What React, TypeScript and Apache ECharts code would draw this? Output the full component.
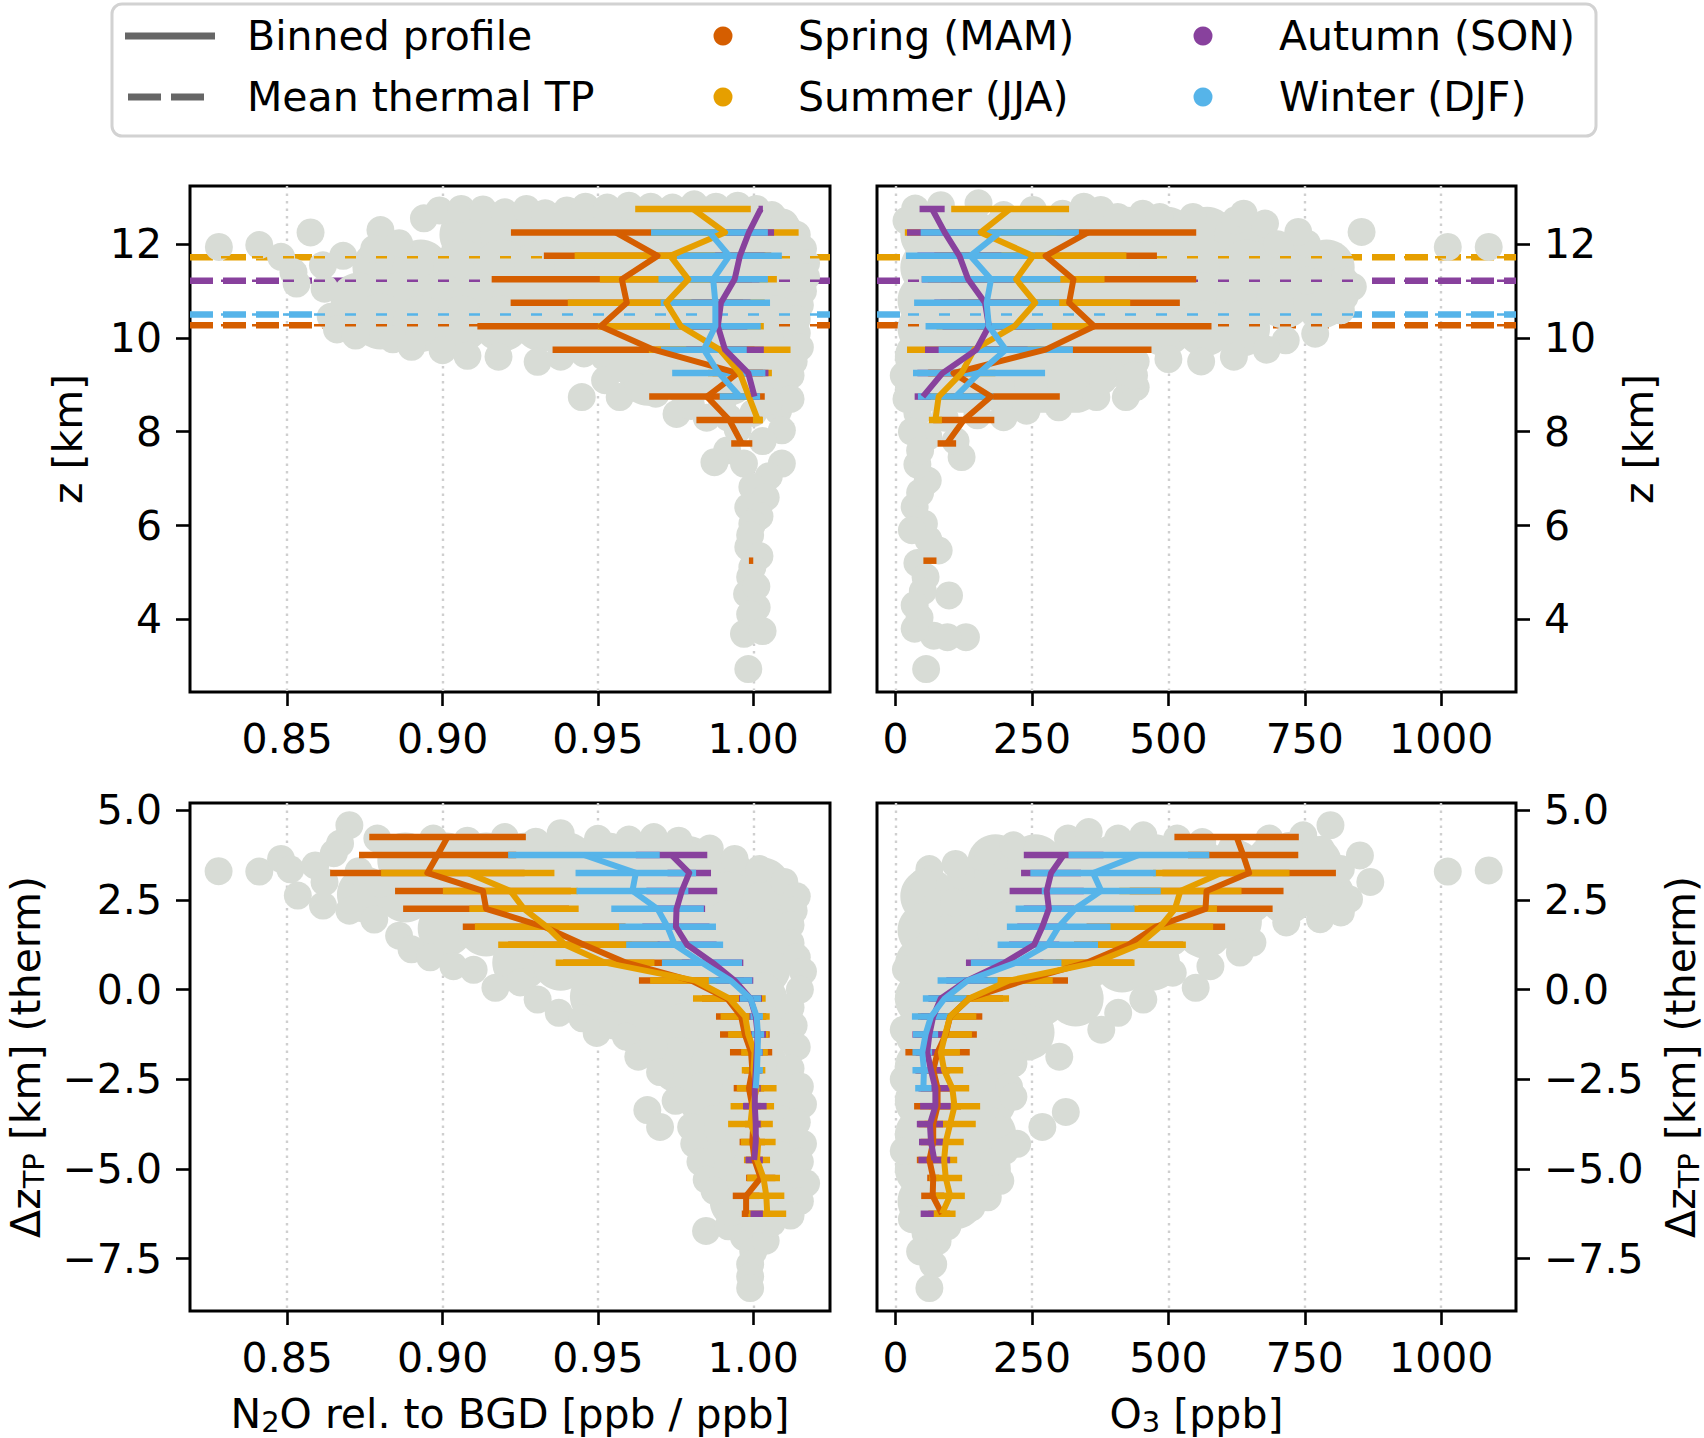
import React, { useEffect, useRef } from "react";
import * as echarts from "echarts";

const FONT = "DejaVu Sans";
const N = null;

const SEASON_NAMES = ["Spring (MAM)", "Summer (JJA)", "Autumn (SON)", "Winter (DJF)"];
const SEASON_COLORS = ["#d55e00", "#e69f00", "#88419d", "#56b4e9"];
const LEGEND_LINES = ["Binned profile", "Mean thermal TP"];
const DOT_GREY = "#d8dcd6";

// bin centres (km): altitude (top row) and distance to thermal tropopause (bottom row)
const Z_BINS = [12.75, 12.25, 11.75, 11.25, 10.75, 10.25, 9.75, 9.25, 8.75, 8.25, 7.75, 7.25, 6.75, 6.25, 5.75, 5.25];
const DZ_BINS = [4.25, 3.75, 3.25, 2.75, 2.25, 1.75, 1.25, 0.75, 0.25, -0.25, -0.75, -1.25, -1.75, -2.25, -2.75, -3.25, -3.75, -4.25, -4.75, -5.25, -5.75, -6.25];

// mean thermal tropopause altitude per season (km)
const TP_MEAN_Z = [10.27, 11.72, 11.22, 10.5];

// axis ranges and ticks
const N2O_RANGE = [0.8187, 1.0247];
const O3_RANGE = [-34, 1137];
const Z_RANGE = [2.45, 13.24];
const DZ_RANGE = [-8.96, 5.2];
const N2O_TICKS = [0.85, 0.9, 0.95, 1.0];
const O3_TICKS = [0, 250, 500, 750, 1000];
const Z_TICKS = [4, 6, 8, 10, 12];
const DZ_TICKS = [-7.5, -5, -2.5, 0, 2.5, 5];

// binned means / std per season (spring, summer, autumn, winter)
const N2O_Z_MEAN = [
  [N, 0.9557, 0.9692, 0.9577, 0.9593, 0.9509, 0.9679, 0.995, 0.9851, 0.9923, 0.9963, N, N, N, N, 0.9993],
  [0.9806, 0.9909, 0.9733, 0.9791, 0.972, 0.9767, 0.9892, 0.9957, 0.9986, 1.0015, N, N, N, N, N, N],
  [1.0024, 0.9986, 0.9957, 0.994, 0.9896, 0.9886, 0.9909, 0.9984, 1.0004, N, N, N, N, N, N, N],
  [N, 0.9859, 0.9923, 0.9871, 0.9878, 0.9878, 0.9841, 0.9889, 0.9957, N, N, N, N, N, N, N],
];
const N2O_Z_SD = [
  [N, 0.0337, 0.0366, 0.0419, 0.0374, 0.0397, 0.0325, 0.0081, 0.0186, 0.0106, 0.0034, N, N, N, N, 0.0007],
  [0.0186, 0.0237, 0.0308, 0.0285, 0.0317, 0.0267, 0.0228, 0.0103, 0.0027, 0.0016, N, N, N, N, N, N],
  [0.0007, 0.0081, 0.008, 0.008, 0.0095, 0.0095, 0.0125, 0.0065, 0.0016, N, N, N, N, N, N, N],
  [N, 0.0188, 0.0169, 0.0176, 0.0176, 0.0146, 0.0138, 0.015, 0.0065, N, N, N, N, N, N, N],
];
const O3_Z_MEAN = [
  [N, 353, 275, 326, 318, 364, 275, 106, 175, 125, 94, N, N, N, N, 63],
  [210, 156, 252, 221, 256, 218, 144, 121, 79, 73, N, N, N, N, N, N],
  [67, 90, 117, 133, 164, 171, 148, 86, 50, N, N, N, N, N, N, N],
  [N, 191, 137, 175, 167, 171, 202, 153, 110, N, N, N, N, N, N, N],
];
const O3_Z_SD = [
  [N, 198, 204, 225, 203, 215, 194, 46, 126, 56, 17, N, N, N, N, 12],
  [108, 139, 171, 162, 174, 143, 123, 62, 23, 12, N, N, N, N, N, N],
  [23, 69, 77, 85, 93, 85, 94, 46, 15, N, N, N, N, N, N, N],
  [N, 145, 118, 127, 133, 116, 123, 121, 69, N, N, N, N, N, N, N],
];
const N2O_DZ_MEAN = [
  [0.9016, 0.8984, 0.8951, 0.913, 0.914, 0.9327, 0.9455, 0.9591, 0.9801, 0.9916, 0.9961, 0.9973, 0.9993, 0.9997, 0.9986, 0.9997, 1.0, 0.9997, 1.0004, 1.0024, 0.9977, 0.9977],
  [N, N, 0.9081, 0.9218, 0.9262, 0.9336, 0.9394, 0.9523, 0.9814, 0.9923, 0.9974, 0.9984, 1.0004, 1.0001, 1.0011, 0.9997, 0.9991, 1.0016, 1.0012, 1.0033, 1.0042, 1.0045],
  [N, 0.9737, 0.9794, 0.977, 0.9753, 0.9751, 0.9787, 0.9869, 0.994, 0.9991, 1.0008, 1.0014, 1.0011, 1.0008, 1.0005, 1.0005, 1.0008, 1.0008, 1.0003, N, N, 1.0011],
  [N, 0.9455, 0.9622, 0.9611, 0.9692, 0.9724, 0.9747, 0.9835, 0.9927, 0.9991, 1.0011, 1.0015, 1.0014, 1.0012, 1.0008, N, N, N, N, N, N, N],
];
const N2O_DZ_SD = [
  [0.0252, 0.0253, 0.0313, 0.0283, 0.0267, 0.0262, 0.0244, 0.0203, 0.0169, 0.0081, 0.0081, 0.008, 0.0068, 0.0027, 0.0049, 0.0027, 0.0027, 0.0041, 0.0027, 0.0047, 0.0043, 0.0014],
  [N, N, 0.0279, 0.0217, 0.0176, 0.0232, 0.0215, 0.0159, 0.0146, 0.0117, 0.0079, 0.0065, 0.0043, 0.0038, 0.0064, 0.007, 0.0072, 0.0056, 0.0042, 0.0053, 0.0058, 0.0061],
  [N, 0.0115, 0.007, 0.0114, 0.0092, 0.0108, 0.0095, 0.0099, 0.006, 0.0037, 0.002, 0.0027, 0.002, 0.002, 0.0019, 0.0038, 0.0016, 0.0014, 0.0028, N, N, 0.002],
  [N, 0.0244, 0.0194, 0.018, 0.0149, 0.0156, 0.0156, 0.0129, 0.007, 0.0034, 0.002, 0.002, 0.0016, 0.0019, 0.0009, N, N, N, N, N, N, N],
];
const O3_DZ_MEAN = [
  [625, 637, 648, 570, 568, 477, 427, 350, 235, 135, 100, 92, 77, 69, 77, 77, 69, 69, 62, 69, 68, 85],
  [N, N, 597, 522, 512, 485, 446, 366, 208, 135, 100, 91, 83, 89, 104, 108, 100, 92, 89, 92, 100, 85],
  [N, 308, 285, 277, 281, 269, 254, 200, 131, 83, 69, 62, 58, 65, 73, 73, 63, 65, 71, N, N, 58],
  [N, 446, 362, 377, 329, 299, 279, 221, 132, 90, 65, 55, 49, 52, 51, N, N, N, N, N, N, N],
];
const O3_DZ_SD = [
  [114, 101, 159, 141, 123, 127, 100, 85, 81, 62, 59, 57, 59, 31, 31, 43, 27, 23, 23, 11, 21, 15],
  [N, N, 125, 112, 77, 97, 86, 72, 80, 73, 48, 49, 35, 35, 31, 47, 47, 33, 24, 30, 27, 25],
  [N, 73, 55, 68, 46, 46, 46, 71, 38, 23, 23, 31, 21, 29, 31, 28, 24, 22, 29, N, N, 12],
  [N, 129, 115, 109, 109, 95, 92, 83, 55, 40, 35, 23, 18, 21, 15, N, N, N, N, N, N, N],
];

// individual observations (grey dots); dense interior drawn with bigger dots
const N2O_Z_DENSE = [
  [0.908, 12.2], [0.921, 12.2], [0.934, 12.2], [0.947, 12.2], [0.96, 12.2], [0.973, 12.2], [0.986, 12.2], [0.999, 12.2], [1.007, 12.2],
  [0.88, 11.5], [0.893, 11.5], [0.906, 11.5], [0.919, 11.5], [0.932, 11.5], [0.945, 11.5], [0.958, 11.5], [0.971, 11.5], [0.984, 11.5], [0.997, 11.5], [1.007, 11.5],
  [0.873, 10.8], [0.886, 10.8], [0.899, 10.8], [0.912, 10.8], [0.925, 10.8], [0.938, 10.8], [0.951, 10.8], [0.964, 10.8], [0.977, 10.8], [0.99, 10.8], [1.003, 10.8], [1.007, 10.8],
  [0.88, 10.35], [0.893, 10.3], [0.906, 10.3], [0.919, 10.3], [0.932, 10.3], [0.945, 10.3], [0.958, 10.3], [0.971, 10.3], [0.984, 10.3], [0.997, 10.3], [1.007, 10.3],
  [0.962, 9.7], [0.975, 9.7], [0.988, 9.7], [1.001, 9.7], [1.007, 9.7],
  [0.966, 9.15], [0.979, 9.15], [0.992, 9.15], [1.004, 9.15],
];
const N2O_Z_DOTS = [
  [0.828, 11.94], [0.841, 11.98], [0.8575, 12.25], [0.848, 11.73], [0.852, 11.4], [0.853, 11.16], [0.8615, 11.55], [0.862, 11.05],
  [0.864, 10.45], [0.866, 10.18], [0.872, 10.05], [0.88, 12.3], [0.886, 12.02], [0.878, 11.9], [0.868, 11.75], [0.884, 9.97],
  [0.89, 9.81], [0.9, 9.74], [0.908, 9.62], [0.918, 9.6], [0.9306, 9.49], [0.938, 9.6], [0.9455, 9.67], [0.952, 9.6],
  [0.894, 12.55], [0.899, 12.72], [0.906, 12.75], [0.913, 12.74], [0.92, 12.68], [0.927, 12.75], [0.933, 12.66], [0.94, 12.72],
  [0.946, 12.8], [0.953, 12.78], [0.96, 12.82], [0.967, 12.8], [0.974, 12.78], [0.981, 12.85], [0.988, 12.8], [0.995, 12.82],
  [1.001, 12.75], [1.006, 12.62], [1.01, 12.45], [1.014, 12.2], [1.016, 11.9], [1.017, 11.6], [1.017, 11.3], [1.016, 11.0],
  [1.015, 10.7], [1.014, 10.4], [1.014, 10.1], [1.015, 9.8], [1.013, 9.5], [1.012, 9.2], [1.01, 8.9],
  [0.9523, 9.1], [0.957, 8.74], [0.9448, 8.74], [0.9686, 8.81], [0.9753, 8.38], [0.985, 8.3], [0.992, 8.3], [1.0, 8.4],
  [1.008, 8.45], [1.012, 8.7], [0.963, 8.95], [0.98, 8.55], [0.99, 8.6], [1.005, 8.65], [0.958, 9.35],
  [0.9916, 7.6], [0.9875, 7.35], [0.997, 7.32], [1.0092, 7.32], [1.0092, 8.03], [1.003, 7.8], [0.995, 8.05], [1.005, 7.05],
  [0.9997, 6.82], [1.004, 6.6], [0.9984, 6.39], [1.002, 6.2], [0.9997, 6.04], [0.999, 5.8], [0.9984, 5.54], [1.002, 5.35],
  [0.9997, 5.11], [0.999, 4.9], [0.998, 4.54], [1.001, 4.7], [1.0011, 4.25], [0.999, 4.11], [0.997, 3.69], [1.003, 3.75], [0.9984, 2.94],
];
const O3_Z_DENSE = [
  [60, 12.2], [133, 12.2], [206, 12.2], [279, 12.2], [352, 12.2], [425, 12.2], [498, 12.2], [571, 12.2], [635, 12.15],
  [60, 11.5], [133, 11.5], [206, 11.5], [279, 11.5], [352, 11.5], [425, 11.5], [498, 11.5], [571, 11.5], [644, 11.5], [717, 11.5], [790, 11.5],
  [55, 10.8], [128, 10.8], [201, 10.8], [274, 10.8], [347, 10.8], [420, 10.8], [493, 10.8], [566, 10.8], [639, 10.8], [712, 10.8], [780, 10.8],
  [55, 10.2], [128, 10.2], [201, 10.2], [274, 10.2], [347, 10.2], [420, 10.2], [493, 10.2], [566, 10.2], [635, 10.2],
  [50, 9.6], [123, 9.6], [196, 9.6], [269, 9.6], [342, 9.6], [400, 9.55],
  [50, 9.0], [123, 9.0], [196, 9.0], [269, 9.0], [330, 9.0],
];
const O3_Z_DOTS = [
  [36, 12.76], [83, 12.83], [152, 12.87], [198, 12.62], [252, 12.73], [306, 12.65], [345, 12.8], [376, 12.73], [407, 12.58],
  [453, 12.65], [484, 12.58], [545, 12.58], [623, 12.51], [677, 12.44], [638, 12.65], [20, 12.5],
  [715, 11.59], [754, 11.23], [792, 11.02], [823, 11.23], [816, 10.59], [769, 10.09], [715, 9.95], [792, 11.73], [754, 12.01],
  [738, 12.26], [854, 12.26], [1012, 11.94], [1087, 11.94], [823, 10.88], [838, 11.09], [700, 12.0], [680, 9.75], [620, 9.6],
  [560, 9.5], [500, 9.55], [440, 9.5],
  [368, 8.74], [422, 8.74], [440, 8.95], [299, 8.52], [198, 8.31], [240, 8.45], [150, 8.35], [90, 8.3], [40, 8.4], [20, 8.7],
  [15, 9.2], [121, 7.46], [60, 7.9], [110, 7.8], [30, 8.0], [380, 9.1], [437, 9.2],
  [59, 6.96], [40, 7.3], [52, 6.04], [35, 6.4], [45, 6.7], [79, 5.47], [60, 5.7], [40, 5.2], [55, 4.9], [98, 4.51], [50, 4.6],
  [44, 4.04], [70, 3.65], [129, 3.62], [95, 3.62], [35, 3.8], [56, 2.94], [45, 7.6], [30, 5.9], [35, 4.3],
];
const N2O_DZ_DENSE = [
  [0.888, 3.6], [0.901, 3.6], [0.914, 3.6], [0.927, 3.6], [0.94, 3.6], [0.953, 3.6], [0.966, 3.6], [0.979, 3.5], [0.992, 3.1], [1.003, 2.9],
  [0.875, 2.65], [0.888, 2.65], [0.901, 2.65], [0.914, 2.65], [0.927, 2.65], [0.94, 2.65], [0.953, 2.65], [0.966, 2.65], [0.979, 2.65], [0.992, 2.5], [1.005, 2.3],
  [0.901, 1.7], [0.914, 1.7], [0.927, 1.7], [0.94, 1.7], [0.953, 1.7], [0.966, 1.7], [0.979, 1.7], [0.992, 1.7], [1.005, 1.5],
  [0.925, 0.75], [0.938, 0.75], [0.951, 0.75], [0.964, 0.75], [0.977, 0.75], [0.99, 0.75], [1.003, 0.6],
  [0.95, -0.2], [0.963, -0.2], [0.976, -0.2], [0.989, -0.2], [1.002, -0.3],
  [0.965, -1.15], [0.978, -1.15], [0.991, -1.15], [1.003, -1.2],
  [0.976, -2.1], [0.989, -2.1], [1.002, -2.1],
  [0.985, -3.05], [0.998, -3.05], [1.007, -3.05],
  [0.988, -4.0], [1.0, -4.0], [1.008, -4.0],
  [0.99, -5.0], [1.002, -5.0], [1.008, -5.0],
  [0.995, -5.9], [1.005, -5.9],
];
const N2O_DZ_DOTS = [
  [0.8279, 3.3], [0.841, 3.29], [0.848, 3.64], [0.851, 3.35], [0.8534, 2.62], [0.8615, 2.34], [0.859, 3.46], [0.87, 4.58],
  [0.879, 4.21], [0.867, 4.07], [0.862, 3.0], [0.87, 2.2], [0.878, 1.95], [0.865, 3.8], [0.873, 3.3], [0.88, 2.95],
  [0.897, 4.21], [0.908, 4.15], [0.92, 4.25], [0.93, 4.12], [0.938, 4.36], [0.95, 4.2], [0.96, 4.18], [0.968, 4.25],
  [0.976, 4.15], [0.986, 3.93], [0.994, 3.64], [1.002, 3.36], [1.01, 3.0], [1.014, 2.6],
  [1.013, 2.2], [1.012, 1.8], [1.012, 1.3], [1.014, 0.9], [1.016, 0.5], [1.015, 0.0], [1.012, -0.5], [1.013, -1.0],
  [1.014, -1.6], [1.012, -2.2], [1.015, -2.7], [1.016, -3.2], [1.014, -3.7], [1.016, -4.3], [1.015, -4.8], [1.017, -5.4],
  [1.015, -5.9], [1.012, -6.3],
  [0.886, 1.5], [0.89, 1.12], [0.896, 0.9], [0.9035, 0.65], [0.91, 0.55], [0.917, 0.05], [0.925, 0.2], [0.9306, -0.28],
  [0.9374, -0.65], [0.945, -0.8], [0.9496, -1.21], [0.955, -1.0], [0.959, -1.31], [0.963, -1.87], [0.968, -1.6],
  [0.976, -2.62], [0.97, -2.3], [0.9659, -3.36], [0.97, -3.83], [0.975, -3.1], [0.98, -3.83], [0.981, -4.3], [0.983, -4.8],
  [0.985, -5.3], [0.9875, -5.61],
  [0.9848, -6.73], [0.997, -6.9], [1.0, -7.3], [0.999, -7.66], [0.999, -8.0], [0.999, -8.32], [1.004, -7.0], [0.992, -6.6],
  [1.006, -6.5], [0.993, -6.2], [1.0, -6.4],
];
const O3_DZ_DENSE = [
  [183, 3.55], [256, 3.55], [329, 3.55], [402, 3.55], [475, 3.55], [548, 3.55], [621, 3.4], [694, 3.55], [767, 3.5],
  [60, 2.6], [133, 2.6], [206, 2.6], [279, 2.6], [352, 2.6], [425, 2.6], [498, 2.6], [571, 2.6], [644, 2.6], [717, 2.6], [790, 2.6],
  [55, 1.65], [128, 1.65], [201, 1.65], [274, 1.65], [347, 1.65], [420, 1.65], [493, 1.65], [566, 1.65], [620, 1.9],
  [50, 0.7], [123, 0.7], [196, 0.7], [269, 0.7], [342, 0.7], [415, 0.7], [470, 0.75],
  [50, -0.25], [118, -0.25], [191, -0.25], [264, -0.25], [330, -0.25],
  [50, -1.2], [118, -1.2], [191, -1.2], [240, -1.2],
  [50, -2.15], [118, -2.15], [165, -2.15],
  [50, -3.1], [118, -3.1], [170, -3.1],
  [50, -4.05], [118, -4.05], [170, -4.05],
  [50, -5.0], [118, -5.0], [160, -5.0],
  [55, -5.9], [110, -5.9],
];
const O3_DZ_DOTS = [
  [316, 4.21], [354, 4.39], [408, 4.21], [454, 4.3], [516, 4.21], [562, 4.11], [616, 3.93], [685, 4.21], [747, 4.3],
  [797, 4.58], [851, 3.74], [816, 3.36], [831, 2.52], [816, 2.15], [778, 1.96], [716, 1.87], [654, 1.31], [631, 1.03],
  [577, 0.65], [550, 0.05], [508, 0.47], [454, -0.28], [408, -0.65], [377, -1.12], [300, -1.87], [216, -1.5], [216, -2.06],
  [208, -2.71], [216, -2.99], [192, -3.93], [223, -4.3], [312, -3.41], [269, -3.83], [169, 3.83], [216, 4.02], [62, 3.36],
  [50, 2.99], [108, 2.43], [69, 1.59], [19, 0.56], [15, -1.12], [1012, 3.29], [1087, 3.32], [260, 3.9], [870, 3.0],
  [780, 3.9], [720, 4.0], [120, 3.2], [110, 3.5],
  [77, -7.01], [69, -7.66], [62, -8.32], [55, -6.8], [45, -7.3], [95, -6.6], [139, -6.07], [169, -5.79], [192, -5.33],
  [30, -6.4], [180, -4.8], [200, -4.5], [15, -2.5], [15, -4.5],
];

const GRIDS = [
  { left: 190, top: 186, width: 640, height: 506 },
  { left: 877, top: 186, width: 639, height: 506 },
  { left: 190, top: 803, width: 640, height: 508 },
  { left: 877, top: 803, width: 639, height: 508 },
];

const PANELS = [
  { bins: Z_BINS, mean: N2O_Z_MEAN, sd: N2O_Z_SD, dense: N2O_Z_DENSE, dots: N2O_Z_DOTS, xr: N2O_RANGE, tp: true },
  { bins: Z_BINS, mean: O3_Z_MEAN, sd: O3_Z_SD, dense: O3_Z_DENSE, dots: O3_Z_DOTS, xr: O3_RANGE, tp: true },
  { bins: DZ_BINS, mean: N2O_DZ_MEAN, sd: N2O_DZ_SD, dense: N2O_DZ_DENSE, dots: N2O_DZ_DOTS, xr: N2O_RANGE, tp: false },
  { bins: DZ_BINS, mean: O3_DZ_MEAN, sd: O3_DZ_SD, dense: O3_DZ_DENSE, dots: O3_DZ_DOTS, xr: O3_RANGE, tp: false },
];

const minus = (s: string) => s.replace("-", "\u2212");

const nameStyle = {
  fontSize: 41,
  lineHeight: 45,
  color: "#000",
  fontFamily: FONT,
  rich: { sub: { fontSize: 29, lineHeight: 14, verticalAlign: "bottom", fontFamily: FONT, color: "#000" } },
};

const tickStyle = { show: true, length: 14, lineStyle: { color: "#000", width: 2.6 } };

function xAxis(gi: number, range: number[], ticks: number[], fmt: (v: number) => string, name?: string) {
  return {
    type: "value",
    gridIndex: gi,
    position: "bottom",
    min: range[0],
    max: range[1],
    axisLine: { show: false, onZero: false },
    axisTick: { ...tickStyle, customValues: ticks },
    axisLabel: { customValues: ticks, formatter: fmt, fontSize: 41, color: "#000", fontFamily: FONT, margin: 26 },
    splitLine: { show: true, lineStyle: { color: "#cfcfcf", width: 2.4, type: [2.5, 5] } },
    name: name || "",
    nameLocation: "middle",
    nameGap: 80,
    nameTextStyle: nameStyle,
  };
}

function yAxis(gi: number, range: number[], ticks: number[], fmt: (v: number) => string, name: string, right: boolean, gap: number) {
  return {
    type: "value",
    gridIndex: gi,
    position: right ? "right" : "left",
    min: range[0],
    max: range[1],
    axisLine: { show: false, onZero: false },
    axisTick: { ...tickStyle, customValues: ticks },
    axisLabel: { customValues: ticks, formatter: fmt, fontSize: 41, color: "#000", fontFamily: FONT, margin: 28 },
    splitLine: { show: false },
    name,
    nameLocation: "middle",
    nameRotate: 90,
    nameGap: gap,
    nameTextStyle: nameStyle,
  };
}

function buildSeries() {
  const series: any[] = [];
  PANELS.forEach((p, gi) => {
    const axes = { xAxisIndex: gi, yAxisIndex: gi };
    if (p.tp) {
      // thick dashes sit below the observations
      TP_MEAN_Z.forEach((z, s) => {
        series.push({
          type: "line", ...axes, z: 1, silent: true, symbol: "none",
          data: [[p.xr[0], z], [p.xr[1], z]],
          lineStyle: { color: SEASON_COLORS[s], width: 6.5, type: [23, 10] },
        });
      });
    }
    series.push({
      type: "scatter", ...axes, z: 2, silent: true, symbolSize: 56, clip: true,
      data: p.dense, itemStyle: { color: DOT_GREY, opacity: 1 },
    });
    series.push({
      type: "scatter", ...axes, z: 2, silent: true, symbolSize: 28, clip: true,
      data: p.dots, itemStyle: { color: DOT_GREY, opacity: 1 },
    });
    if (p.tp) {
      // thin dashes drawn over the observations
      TP_MEAN_Z.forEach((z, s) => {
        series.push({
          type: "line", ...axes, z: 3, silent: true, symbol: "none",
          data: [[p.xr[0], z], [p.xr[1], z]],
          lineStyle: { color: SEASON_COLORS[s], width: 2.6, type: [11, 20] },
        });
      });
    }
    SEASON_NAMES.forEach((nm, s) => {
      const color = SEASON_COLORS[s];
      const data = p.bins
        .map((b, i) => (p.mean[s][i] == null ? null : [p.mean[s][i], b, p.sd[s][i]]))
        .filter((d) => d !== null);
      series.push({
        type: "custom", ...axes, z: 4, silent: true, clip: true,
        name: nm,
        dimensions: ["x", "y", "sd"],
        encode: { x: 0, y: 1 },
        data,
        renderItem: (_params: any, api: any) => {
          const m = api.value(0);
          const y = api.value(1);
          const h = api.value(2);
          const a = api.coord([m - h, y]);
          const b = api.coord([m + h, y]);
          return {
            type: "line",
            shape: { x1: a[0], y1: a[1], x2: b[0], y2: b[1] },
            style: { stroke: color, lineWidth: 6.5, lineCap: "butt" },
          };
        },
      });
    });
    SEASON_NAMES.forEach((nm, s) => {
      series.push({
        type: "line", ...axes, z: 5, silent: true, symbol: "none", connectNulls: false,
        name: nm,
        data: p.bins.map((b, i) => (p.mean[s][i] == null ? ["-", b] : [p.mean[s][i], b])),
        lineStyle: { color: SEASON_COLORS[s], width: 6, join: "round" },
      });
    });
  });
  return series;
}

function buildLegend() {
  const txt = (x: number, y: number, text: string) => ({
    type: "text", x, y, z: 101,
    style: { text, fontSize: 41, fontFamily: FONT, fill: "#000", align: "left", verticalAlign: "middle" },
  });
  const rows = [36, 97];
  return [
    { type: "rect", z: 100, shape: { x: 112, y: 4, width: 1484, height: 132, r: 10 }, style: { fill: "#fff", stroke: "#d2d2d2", lineWidth: 3 } },
    { type: "line", z: 101, shape: { x1: 125, y1: rows[0], x2: 215, y2: rows[0] }, style: { stroke: "#666", lineWidth: 7 } },
    { type: "line", z: 101, shape: { x1: 128, y1: rows[1], x2: 204, y2: rows[1] }, style: { stroke: "#666", lineWidth: 7, lineDash: [33, 10] } },
    txt(247, rows[0], LEGEND_LINES[0]),
    txt(247, rows[1], LEGEND_LINES[1]),
    ...SEASON_NAMES.flatMap((nm, s) => {
      const cx = s < 2 ? 723 : 1203;
      const tx = s < 2 ? 798 : 1279;
      const cy = rows[s % 2];
      return [
        { type: "circle", z: 101, shape: { cx, cy, r: 9.5 }, style: { fill: SEASON_COLORS[s] } },
        txt(tx, cy, nm),
      ];
    }),
  ];
}

const fmtN2O = (v: number) => v.toFixed(2);
const fmtO3 = (v: number) => String(Math.round(v));
const fmtZ = (v: number) => String(Math.round(v));
const fmtDZ = (v: number) => minus(v.toFixed(1));

export default function App() {
  const ref = useRef<HTMLDivElement>(null);

  useEffect(() => {
    document.body.style.margin = "0";
    if (!ref.current) return;
    const chart = echarts.init(ref.current, null, { renderer: "svg" });
    const option: any = {
      animation: false,
      backgroundColor: "#ffffff",
      textStyle: { fontFamily: FONT },
      grid: GRIDS.map((g) => ({
        ...g,
        show: true,
        borderColor: "#000",
        borderWidth: 3,
        backgroundColor: "transparent",
        containLabel: false,
        outerBoundsMode: "none",
      })),
      xAxis: [
        xAxis(0, N2O_RANGE, N2O_TICKS, fmtN2O),
        xAxis(1, O3_RANGE, O3_TICKS, fmtO3),
        xAxis(2, N2O_RANGE, N2O_TICKS, fmtN2O, "N{sub|2}O rel. to BGD [ppb / ppb]"),
        xAxis(3, O3_RANGE, O3_TICKS, fmtO3, "O{sub|3} [ppb]"),
      ],
      yAxis: [
        yAxis(0, Z_RANGE, Z_TICKS, fmtZ, "z [km]", false, 100),
        yAxis(1, Z_RANGE, Z_TICKS, fmtZ, "z [km]", true, 100),
        yAxis(2, DZ_RANGE, DZ_TICKS, fmtDZ, "\u0394z{sub|TP} [km] (therm)", false, 142),
        yAxis(3, DZ_RANGE, DZ_TICKS, fmtDZ, "\u0394z{sub|TP} [km] (therm)", true, 142),
      ],
      series: buildSeries(),
      graphic: buildLegend(),
    };
    chart.setOption(option);
    return () => chart.dispose();
  }, []);

  return <div ref={ref} style={{ width: 1704, height: 1438 }} />;
}
